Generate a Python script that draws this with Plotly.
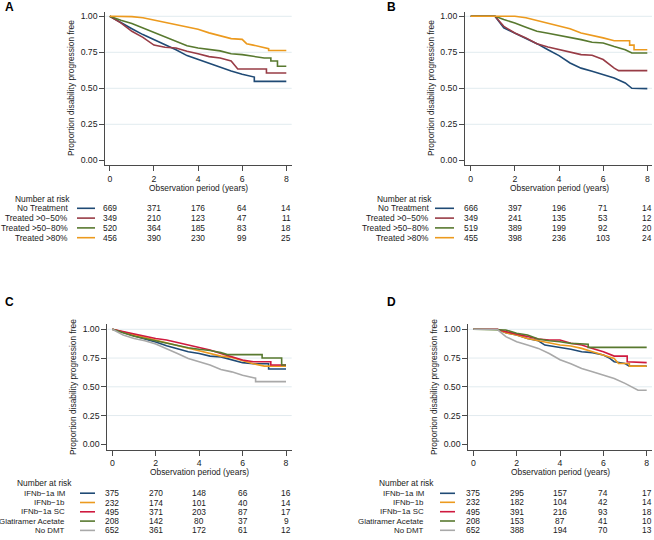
import plotly.graph_objects as go

W, H = 654, 540

# ---------------- data ----------------
years = [0, 2, 4, 6, 8]

A_labels = ["No Treatment", "Treated >0−50%", "Treated >50−80%", "Treated >80%"]
A_risk = [[669, 371, 176, 64, 14], [349, 210, 123, 47, 11],
          [520, 364, 185, 83, 18], [456, 390, 230, 99, 25]]
B_risk = [[666, 397, 196, 71, 14], [349, 241, 135, 53, 12],
          [519, 389, 199, 92, 20], [455, 398, 236, 103, 24]]

C_labels = ["IFNb−1a IM", "IFNb−1b", "IFNb−1a SC", "Glatiramer Acetate", "No DMT"]
C_risk = [[375, 270, 148, 66, 16], [232, 174, 101, 40, 14], [495, 371, 203, 87, 17],
          [208, 142, 80, 37, 9], [652, 361, 172, 61, 12]]
D_risk = [[375, 295, 157, 74, 17], [232, 182, 104, 42, 14], [495, 391, 216, 93, 18],
          [208, 153, 87, 41, 10], [652, 388, 194, 70, 13]]

# Panel A curves
A_none_t = [0, 0.5, 1, 1.5, 2, 2.5, 3, 3.5, 4, 4.5, 5, 5.5, 6, 6.55, 6.55, 8]
A_none_s = [1, 0.954, 0.914, 0.873, 0.838, 0.80, 0.768, 0.727, 0.70, 0.67, 0.645, 0.62, 0.598, 0.578, 0.548, 0.548]
A_lo_t = [0, 0.5, 1, 1.5, 2, 2.5, 3, 3.5, 4, 4.5, 5, 5.5, 5.8, 7.1, 7.1, 8]
A_lo_s = [1, 0.954, 0.896, 0.854, 0.80, 0.785, 0.78, 0.757, 0.74, 0.72, 0.71, 0.69, 0.634, 0.634, 0.606, 0.606]
A_mid_t = [0, 0.5, 1, 1.5, 2, 2.5, 3, 3.5, 4, 4.5, 5, 5.5, 6, 6.5, 7, 7.3, 7.3, 7.6, 7.6, 8]
A_mid_s = [1, 0.972, 0.95, 0.92, 0.89, 0.86, 0.826, 0.796, 0.78, 0.77, 0.76, 0.74, 0.734, 0.722, 0.71, 0.71, 0.69, 0.69, 0.653, 0.653]
A_hi_t = [0, 0.5, 1, 1.5, 2, 2.5, 3, 3.5, 4, 4.5, 5, 5.5, 6, 6.2, 6.5, 7, 7.2, 7.2, 8]
A_hi_s = [1, 1, 0.998, 0.99, 0.975, 0.96, 0.94, 0.925, 0.91, 0.885, 0.865, 0.845, 0.84, 0.81, 0.80, 0.78, 0.775, 0.762, 0.762]

# Panel B curves
B_none_t = [0, 1.1, 1.5, 2, 2.5, 3, 3.5, 4, 4.5, 5, 5.5, 6, 6.5, 7, 7.3, 8]
B_none_s = [1, 1, 0.92, 0.884, 0.85, 0.81, 0.768, 0.727, 0.676, 0.64, 0.618, 0.595, 0.572, 0.537, 0.50, 0.498]
B_lo_t = [0, 1.1, 1.5, 2, 2.5, 3, 3.5, 4, 4.5, 5, 5.5, 6, 6.5, 6.7, 8]
B_lo_s = [1, 1, 0.93, 0.884, 0.85, 0.81, 0.787, 0.768, 0.75, 0.734, 0.73, 0.70, 0.64, 0.623, 0.623]
B_mid_t = [0, 1.1, 1.5, 2, 2.5, 3, 3.5, 4, 4.5, 5, 5.5, 6, 6.5, 7, 7.3, 8]
B_mid_s = [1, 1, 0.977, 0.954, 0.924, 0.896, 0.882, 0.868, 0.85, 0.838, 0.82, 0.815, 0.79, 0.768, 0.745, 0.745]
B_hi_t = [0, 2, 2.5, 3, 3.5, 4, 4.5, 5, 5.5, 6, 6.5, 7.2, 7.2, 7.4, 7.4, 8]
B_hi_s = [1, 1, 0.99, 0.97, 0.954, 0.93, 0.914, 0.884, 0.868, 0.85, 0.83, 0.83, 0.80, 0.80, 0.768, 0.768]

# Panel C curves
C_im_t = [0, 0.5, 1, 1.5, 2, 2.5, 3, 3.5, 4, 4.5, 5, 5.5, 6, 6.5, 7.2, 7.2, 8]
C_im_s = [1, 0.974, 0.945, 0.915, 0.89, 0.857, 0.834, 0.805, 0.79, 0.767, 0.76, 0.733, 0.71, 0.70, 0.70, 0.655, 0.655]
C_1b_t = [0, 0.5, 1, 1.5, 2, 2.5, 3, 3.5, 4, 4.5, 5, 5.5, 6, 6.5, 7, 8]
C_1b_s = [1, 0.976, 0.95, 0.928, 0.906, 0.88, 0.857, 0.835, 0.814, 0.79, 0.767, 0.756, 0.727, 0.70, 0.68, 0.68]
C_sc_t = [0, 0.5, 1, 1.5, 2, 2.5, 3, 3.5, 4, 4.5, 5, 5.5, 6, 6.5, 7.3, 7.3, 8]
C_sc_s = [1, 0.98, 0.96, 0.94, 0.92, 0.907, 0.884, 0.863, 0.843, 0.82, 0.79, 0.76, 0.733, 0.718, 0.718, 0.69, 0.69]
C_ga_t = [0, 0.5, 1, 1.5, 2, 2.5, 3, 3.5, 4, 4.5, 5, 5.3, 6.9, 6.9, 7.8, 7.8, 8]
C_ga_s = [1, 0.97, 0.94, 0.92, 0.90, 0.877, 0.855, 0.84, 0.826, 0.815, 0.797, 0.78, 0.78, 0.75, 0.75, 0.69, 0.69]
C_no_t = [0, 0.5, 1, 1.5, 2, 2.5, 3, 3.5, 4, 4.5, 5, 5.5, 6, 6.3, 6.6, 6.6, 8]
C_no_s = [1, 0.95, 0.92, 0.90, 0.872, 0.834, 0.79, 0.747, 0.718, 0.69, 0.65, 0.63, 0.60, 0.585, 0.575, 0.545, 0.545]

# Panel D curves
D_im_t = [0, 1.1, 1.5, 2, 2.5, 3, 3.3, 4, 4.5, 5, 5.5, 6, 6.3, 6.5, 7, 7.2, 8]
D_im_s = [1, 1, 0.97, 0.95, 0.92, 0.90, 0.863, 0.843, 0.826, 0.805, 0.797, 0.776, 0.747, 0.718, 0.703, 0.68, 0.68]
D_1b_t = [0, 1.1, 1.5, 2, 2.5, 3, 3.5, 4, 4.5, 5, 5.5, 6, 6.5, 6.7, 7.2, 7.2, 8]
D_1b_s = [1, 1, 0.97, 0.95, 0.92, 0.90, 0.884, 0.863, 0.855, 0.834, 0.805, 0.776, 0.747, 0.703, 0.703, 0.68, 0.68]
D_sc_t = [0, 1.1, 1.5, 2, 2.5, 3, 3.5, 4, 4.5, 5, 5.5, 6, 6.5, 7.1, 7.1, 7.6, 8]
D_sc_s = [1, 1, 0.98, 0.96, 0.936, 0.916, 0.907, 0.907, 0.878, 0.863, 0.834, 0.805, 0.767, 0.767, 0.718, 0.71, 0.71]
D_ga_t = [0, 1.3, 1.5, 2, 2.5, 3, 3.5, 4, 4.5, 5.3, 5.3, 8]
D_ga_s = [1, 1, 0.994, 0.965, 0.95, 0.916, 0.90, 0.892, 0.878, 0.87, 0.843, 0.843]
D_no_t = [0, 1.1, 1.5, 2, 2.5, 3, 3.5, 4, 4.5, 5, 5.5, 6, 6.5, 7, 7.3, 7.6, 8]
D_no_s = [1, 1, 0.936, 0.892, 0.863, 0.834, 0.79, 0.735, 0.70, 0.66, 0.63, 0.60, 0.573, 0.53, 0.50, 0.47, 0.47]

# ---------------- style ----------------
NAVY = "#1f4a75"
MAROON = "#983c46"
GREEN = "#58792f"
ORANGE = "#ec9a1e"
CRAN = "#cf1a3f"
GRAY = "#a9a9a9"
FONT = "Liberation Sans, Arial, sans-serif"
TXT = "#1a1a1a"
FS = 8.4

A_series = [(A_none_t, A_none_s, NAVY), (A_lo_t, A_lo_s, MAROON), (A_mid_t, A_mid_s, GREEN), (A_hi_t, A_hi_s, ORANGE)]
B_series = [(B_none_t, B_none_s, NAVY), (B_lo_t, B_lo_s, MAROON), (B_mid_t, B_mid_s, GREEN), (B_hi_t, B_hi_s, ORANGE)]
C_series = [(C_im_t, C_im_s, NAVY), (C_1b_t, C_1b_s, ORANGE), (C_sc_t, C_sc_s, CRAN), (C_ga_t, C_ga_s, GREEN), (C_no_t, C_no_s, GRAY)]
D_series = [(D_im_t, D_im_s, NAVY), (D_1b_t, D_1b_s, ORANGE), (D_sc_t, D_sc_s, CRAN), (D_ga_t, D_ga_s, GREEN), (D_no_t, D_no_s, GRAY)]
AB_colors = [NAVY, MAROON, GREEN, ORANGE]
CD_colors = [NAVY, ORANGE, CRAN, GREEN, GRAY]

# panel geometry in page pixels: axis box, pixel of x=0/x=8 and y=0/y=1
panels = [
    dict(name="A", box=(105.3, 291.7, 12.3, 165.3), x0=109.8, x8=286.3, y1=16.3, y0=160.3,
         series=A_series, labels=A_labels, risk=A_risk, colors=AB_colors, labfs=FS,
         letter=(9, 7), ytitle=(71, 88), xtitle=(198.5, 188),
         nar=(13, 199), rows=[208.3, 218.1, 227.9, 237.7], lab_r=70, line=(77, 95)),
    dict(name="B", box=(465.0, 652.0, 12.3, 165.3), x0=470.7, x8=647.3, y1=16.3, y0=160.3,
         series=B_series, labels=A_labels, risk=B_risk, colors=AB_colors, labfs=FS,
         letter=(391, 7), ytitle=(431, 88), xtitle=(559, 188),
         nar=(375, 199), rows=[208.3, 218.1, 227.9, 237.7], lab_r=431, line=(435, 454)),
    dict(name="C", box=(107.3, 291.7, 324.0, 450.0), x0=112.3, x8=286.0, y1=329.3, y0=444.3,
         series=C_series, labels=C_labels, risk=C_risk, colors=CD_colors, labfs=7.9,
         letter=(9, 302), ytitle=(73, 387), xtitle=(199.5, 472),
         nar=(15, 483), rows=[493.2, 502.5, 511.8, 521.1, 530.4], lab_r=67, line=(80, 95)),
    dict(name="D", box=(468.3, 652.0, 324.0, 450.0), x0=473.3, x8=646.7, y1=329.3, y0=444.3,
         series=D_series, labels=C_labels, risk=D_risk, colors=CD_colors, labfs=7.9,
         letter=(391, 302), ytitle=(434, 387), xtitle=(560.5, 472),
         nar=(377, 483), rows=[493.3, 502.3, 511.7, 521.0, 530.3], lab_r=426, line=(440, 455)),
]

def px(x):
    return x / W

def py(y):
    return 1 - y / H

fig = go.Figure()
layout = dict(width=W, height=H, margin=dict(l=0, r=0, t=0, b=0),
              paper_bgcolor="white", plot_bgcolor="white", showlegend=False,
              font=dict(family=FONT, size=FS, color=TXT))
annotations = []
shapes = []

for i, p in enumerate(panels, start=1):
    sfx = "" if i == 1 else str(i)
    xa, ya = "x" + sfx, "y" + sfx
    l, r, t, b = p["box"]
    xs = (p["x8"] - p["x0"]) / 8.0
    ys = (p["y0"] - p["y1"])
    xr = [(l - p["x0"]) / xs, (r - p["x0"]) / xs]
    yr = [(p["y0"] - b) / ys, (p["y0"] - t) / ys]
    axis_common = dict(showline=True, linecolor="#4a4a4a", linewidth=1, ticks="outside",
                       ticklen=5, tickwidth=1, tickcolor="#4a4a4a", zeroline=False,
                       tickfont=dict(family=FONT, size=FS + 0.3, color=TXT), fixedrange=True)
    layout["xaxis" + sfx] = dict(domain=[px(l), px(r)], range=xr, anchor=ya,
                                 tickvals=years, ticktext=[str(v) for v in years],
                                 showgrid=False, **axis_common)
    layout["yaxis" + sfx] = dict(domain=[py(b), py(t)], range=yr, anchor=xa,
                                 tickvals=[0, 0.25, 0.5, 0.75, 1.0],
                                 ticktext=["0.00", "0.25", "0.50", "0.75", "1.00"],
                                 showgrid=False, **axis_common)
    for g in [0.25, 0.5, 0.75, 1.0]:
        shapes.append(dict(type="line", xref=xa + " domain", yref=ya, x0=0, x1=1, y0=g, y1=g,
                           line=dict(color="#e2ebef", width=1), layer="below"))
    for tt, ss, col in p["series"]:
        fig.add_trace(go.Scatter(x=tt, y=ss, mode="lines", line=dict(color=col, width=1.6),
                                 xaxis=xa, yaxis=ya, hoverinfo="skip", cliponaxis=False))
    annotations.append(dict(text="<b>%s</b>" % p["name"], xref="paper", yref="paper",
                            x=px(p["letter"][0]), y=py(p["letter"][1]), showarrow=False,
                            xanchor="center", yanchor="middle",
                            font=dict(family=FONT, size=12, color="black")))
    annotations.append(dict(text="Proportion disability progression free", xref="paper", yref="paper",
                            x=px(p["ytitle"][0]), y=py(p["ytitle"][1]), textangle=-90, showarrow=False,
                            xanchor="center", yanchor="middle", font=dict(family=FONT, size=FS, color=TXT)))
    annotations.append(dict(text="Observation period (years)", xref="paper", yref="paper",
                            x=px(p["xtitle"][0]), y=py(p["xtitle"][1]), showarrow=False,
                            xanchor="center", yanchor="middle", font=dict(family=FONT, size=FS, color=TXT)))
    annotations.append(dict(text="Number at risk", xref="paper", yref="paper",
                            x=px(p["nar"][0]), y=py(p["nar"][1]), showarrow=False,
                            xanchor="left", yanchor="middle", font=dict(family=FONT, size=FS, color=TXT)))
    for lab, row, col, yy in zip(p["labels"], p["risk"], p["colors"], p["rows"]):
        annotations.append(dict(text=lab, xref="paper", yref="paper", x=px(p["lab_r"]), y=py(yy),
                                showarrow=False, xanchor="right", yanchor="middle",
                                font=dict(family=FONT, size=p["labfs"], color=TXT)))
        shapes.append(dict(type="line", xref="paper", yref="paper",
                           x0=px(p["line"][0]), x1=px(p["line"][1]), y0=py(yy), y1=py(yy),
                           line=dict(color=col, width=1.6)))
        for yr_, n in zip(years, row):
            annotations.append(dict(text=str(n), xref=xa, yref="paper", x=yr_, y=py(yy),
                                    showarrow=False, xanchor="center", yanchor="middle",
                                    font=dict(family=FONT, size=FS, color=TXT)))

layout["annotations"] = annotations
layout["shapes"] = shapes
fig.update_layout(**layout)
fig.write_html("out.html", config={"displayModeBar": False},
               post_script="document.body.style.margin='0px';document.body.style.overflow='hidden';")
